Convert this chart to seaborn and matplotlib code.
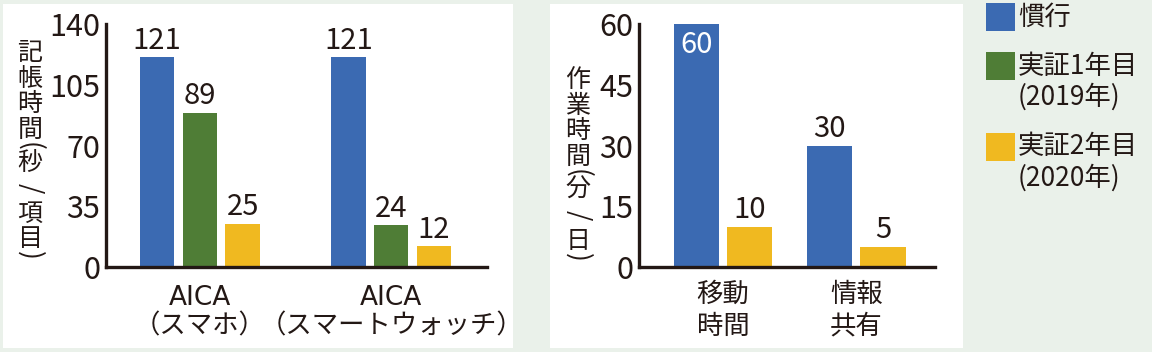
import matplotlib
matplotlib.use("Agg")
import matplotlib.pyplot as plt
import seaborn as sns
import pandas as pd
from matplotlib.patches import Rectangle

# ---------------- data ----------------
left_categories = ["AICA\n（スマホ）", "AICA\n（スマートウォッチ）"]
left_kanko = [121, 121]
left_year1 = [89, 24]
left_year2 = [25, 12]
left_ylabel = "記帳時間(秒/項目)"
left_yticks = [0, 35, 70, 105, 140]

right_categories = ["移動\n時間", "情報\n共有"]
right_kanko = [60, 30]
right_year2 = [10, 5]
right_ylabel = "作業時間(分/日)"
right_yticks = [0, 15, 30, 45, 60]

series_names = ["慣行", "実証1年目", "実証2年目"]
legend_labels = ["慣行", "実証1年目\n(2019年)", "実証2年目\n(2020年)"]
colors = ["#3B6AB2", "#4F7D36", "#F0B920"]

# ---------------- style ----------------
sns.set_theme(style="white")
JP = ["Noto Sans CJK JP", "DejaVu Sans"]
plt.rcParams["font.family"] = JP
TXT = "#231815"
BG = "#EAF1EA"

W, H = 1152, 352
fig = plt.figure(figsize=(W / 100, H / 100), dpi=100, facecolor=BG)

def px(x0, y0, x1, y1):
    return [x0 / W, 1 - y1 / H, (x1 - x0) / W, (y1 - y0) / H]

# white panels
for (x0, x1) in [(3, 513), (550, 963)]:
    fig.patches.append(Rectangle((x0 / W, 4 / H), (x1 - x0) / W, (348 - 4) / H,
                                 transform=fig.transFigure, facecolor="white",
                                 edgecolor="none", zorder=-5))

left_df = pd.DataFrame({
    "cat": left_categories * 3,
    "series": [series_names[0]] * 2 + [series_names[1]] * 2 + [series_names[2]] * 2,
    "value": left_kanko + left_year1 + left_year2,
})
right_df = pd.DataFrame({
    "cat": right_categories * 2,
    "series": [series_names[0]] * 2 + [series_names[2]] * 2,
    "value": right_kanko + right_year2,
})

ax1 = fig.add_axes(px(106, 24, 487, 267))
ax2 = fig.add_axes(px(639, 24, 935, 267))

sns.barplot(data=left_df, x="cat", y="value", hue="series", hue_order=series_names,
            palette=colors, width=0.67, gap=0.2, ax=ax1, legend=False,
            saturation=1, linewidth=0)
sns.barplot(data=right_df, x="cat", y="value", hue="series",
            hue_order=[series_names[0], series_names[2]],
            palette=[colors[0], colors[2]], width=0.8, gap=0.15, ax=ax2,
            legend=False, saturation=1, linewidth=0)


def style_axes(ax, yticks, xlim, xpad, xlinespacing, xfamily):
    ax.set_facecolor("none")
    ax.set_ylim(yticks[0], yticks[-1])
    ax.set_xlim(*xlim)
    ax.set_yticks(yticks)
    ax.set_yticks([yticks[-1]], minor=True)
    ax.set_xlabel("")
    ax.set_ylabel("")
    for s in ["top", "right"]:
        ax.spines[s].set_visible(False)
    for s in ["left", "bottom"]:
        ax.spines[s].set_color(TXT)
        ax.spines[s].set_linewidth(2.4)
    ax.tick_params(axis="y", which="major", length=0, pad=4, labelsize=22, labelcolor=TXT)
    ax.tick_params(axis="y", which="minor", length=5, width=2.2, direction="in",
                   color=TXT, left=True)
    ax.tick_params(axis="x", length=0, pad=xpad, labelsize=19, labelcolor=TXT)
    for t in ax.get_xticklabels():
        t.set_linespacing(xlinespacing)
        t.set_family(xfamily)
    ax.grid(False)

style_axes(ax1, left_yticks, (-0.49, 1.5), 13, 1.12, ["DejaVu Sans", "Noto Sans CJK JP"])
style_axes(ax2, right_yticks, (-0.63, 1.59), 10, 1.24, ["Noto Sans CJK JP"])

for ax in (ax1, ax2):
    for c in ax.containers:
        texts = ax.bar_label(c, padding=1, fontsize=21, color=TXT)
        if ax is ax2 and c is ax.containers[0]:
            t = texts[0]
            t.xyann = (0, -4)
            t.set_va("top")
            t.set_color("white")

# vertical (tategaki) y labels, one character per row;
# brackets and slash are turned 90 degrees as in vertical typesetting
ROTATED = "()/"
PARENS = "()"

def vertical_label(text, x, y_start):
    y = y_start
    prev = None
    for ch in text:
        if prev is not None:
            if ch in PARENS or prev in PARENS:
                y += 16.5
            else:
                y += 25.5
        rot = -90 if ch in ROTATED else 0
        size = 19 if ch in ROTATED else 18
        fig.text(x / W, 1 - y / H, ch, ha="center", va="center", rotation=rot,
                 rotation_mode="default", fontsize=size, color=TXT)
        prev = ch

vertical_label(left_ylabel, 30, 53)
vertical_label(right_ylabel, 578, 80)

# legend
sq_tops = [3, 52, 133]
for col, lab, top in zip(colors, legend_labels, sq_tops):
    fig.patches.append(Rectangle((986 / W, 1 - (top + 28) / H), 29 / W, 28 / H,
                                 transform=fig.transFigure, facecolor=col,
                                 edgecolor="none"))
    for i, line in enumerate(lab.split("\n")):
        fig.text(1018 / W, 1 - (top + 14 + i * 31) / H, line, ha="left", va="center",
                 fontsize=19, color=TXT)

fig.savefig("out.png", dpi=100, facecolor=BG)
